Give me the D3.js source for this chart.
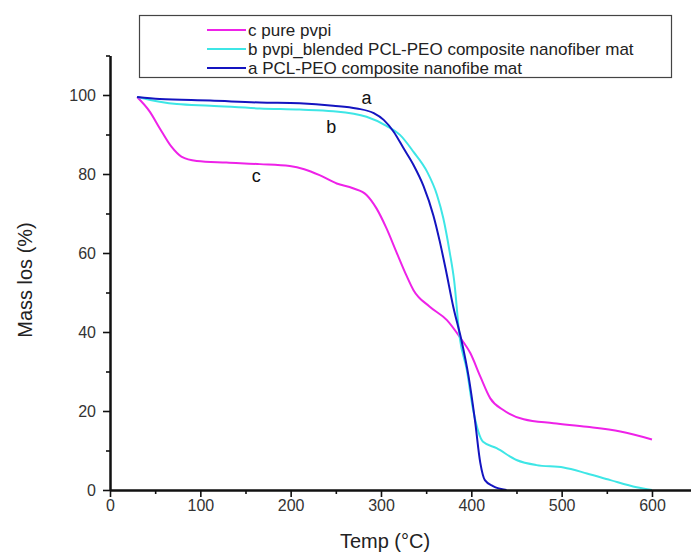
<!DOCTYPE html>
<html>
<head>
<meta charset="utf-8">
<script src="https://cdn.jsdelivr.net/npm/d3@7"></script>
<style>
  html, body { margin: 0; padding: 0; background: #fff; }
  svg { display: block; font-family: "Liberation Sans", Arial, sans-serif; }
</style>
</head>
<body>
<svg id="chart" width="691" height="553"></svg>
<script>
// ---- data ----
const xTicks = [0, 100, 200, 300, 400, 500, 600];
const xMinorTicks = [50, 150, 250, 350, 450, 550, 650];
const yTicks = [0, 20, 40, 60, 80, 100];
const yMinorTicks = [10, 30, 50, 70, 90, 110];

const seriesNames = [
  "c pure pvpi",
  "b pvpi_blended PCL-PEO composite nanofiber mat",
  "a PCL-PEO composite nanofibe mat"
];
const seriesLetters = ["c", "b", "a"];

// c: pure pvpi
const cTemp = [30, 44, 55, 68, 79, 96, 129, 166, 199, 215, 232, 251, 269, 284, 295, 306, 317, 328, 336, 354, 373, 387, 399, 410, 421, 435, 458, 491, 528, 565, 600];
const cMass = [99.5, 95.8, 91.6, 86.9, 84.4, 83.3, 82.9, 82.5, 82.0, 81.2, 79.7, 77.6, 76.4, 74.7, 71.3, 66.3, 60.3, 54.4, 50.6, 46.4, 43.0, 38.8, 34.6, 28.7, 23.2, 20.3, 17.9, 16.9, 16.0, 14.8, 12.8];

// b: pvpi blended PCL-PEO
const bTemp = [30, 55, 74, 111, 166, 210, 247, 284, 306, 321, 336, 351, 362, 369, 376, 381, 387, 395, 402, 413, 428, 450, 472, 502, 528, 554, 583, 600];
const bMass = [99.5, 98.3, 97.7, 97.3, 96.6, 96.3, 95.9, 94.5, 92.2, 89.9, 85.6, 80.6, 74.7, 68.8, 60.3, 53.0, 38.8, 30.4, 20.3, 12.2, 10.6, 7.6, 6.3, 5.7, 4.2, 2.5, 0.7, 0];

// a: PCL-PEO
const aTemp = [30, 55, 111, 166, 210, 247, 273, 292, 303, 314, 325, 336, 347, 358, 365, 372, 380, 389, 397, 404, 410, 415, 424, 439];
const aMass = [99.5, 99.0, 98.6, 98.1, 97.9, 97.3, 96.6, 95.4, 93.7, 90.7, 86.5, 82.3, 77.0, 69.5, 63.0, 55.5, 46.4, 38.0, 28.7, 17.7, 6.8, 2.5, 1.0, 0];

// curve labels: [letter, temp, mass]
const labelLetters = ["a", "b", "c"];
const labelTemp = [284, 245, 162];
const labelMass = [97.8, 90.5, 78];

const colors = { c: "#ee22e8", b: "#3ee6e6", a: "#1414c0" };

// ---- chart ----
const svg = d3.select("#chart");
const x = d3.scaleLinear().domain([0, 650]).range([110, 110 + 650 * 0.9033]);
const y = d3.scaleLinear().domain([0, 110]).range([490, 490 - 110 * 3.95]);

const line = d3.line().x(d => x(d[0])).y(d => y(d[1])).curve(d3.curveMonotoneX);

const series = [
  { key: "c", data: d3.zip(cTemp, cMass) },
  { key: "b", data: d3.zip(bTemp, bMass) },
  { key: "a", data: d3.zip(aTemp, aMass) }
];

series.forEach(s => {
  svg.append("path")
    .attr("d", line(s.data))
    .attr("fill", "none")
    .attr("stroke", colors[s.key])
    .attr("stroke-width", 2)
    .attr("stroke-linejoin", "round");
});

// axes
function styleAxis(g) {
  g.select(".domain").attr("stroke", "#111").attr("stroke-width", 2);
  g.selectAll(".tick line").attr("stroke", "#111").attr("stroke-width", 1.6);
  g.selectAll(".tick text").attr("fill", "#333").style("font-size", "16px")
    .style("font-family", "'Liberation Sans', Arial, sans-serif");
}

svg.append("g").attr("transform", `translate(0,${y(0)})`)
  .call(d3.axisBottom(x).tickValues(xMinorTicks).tickSize(4).tickSizeOuter(0).tickFormat(""))
  .call(styleAxis);
svg.append("g").attr("transform", `translate(0,${y(0)})`)
  .call(d3.axisBottom(x).tickValues(xTicks).tickSize(7).tickPadding(3).tickSizeOuter(0).tickFormat(d3.format("d")))
  .call(styleAxis);

svg.append("g").attr("transform", `translate(${x(0)},0)`)
  .call(d3.axisLeft(y).tickValues(yMinorTicks).tickSize(4).tickSizeOuter(0).tickFormat(""))
  .call(styleAxis);
svg.append("g").attr("transform", `translate(${x(0)},0)`)
  .call(d3.axisLeft(y).tickValues(yTicks).tickSize(7).tickPadding(7).tickSizeOuter(0).tickFormat(d3.format("d")))
  .call(styleAxis);

// axis titles
svg.append("text").attr("x", 385).attr("y", 548).attr("text-anchor", "middle")
  .style("font-size", "20px").attr("fill", "#222").text("Temp (°C)");
svg.append("text").attr("transform", "translate(32,280) rotate(-90)").attr("text-anchor", "middle")
  .style("font-size", "20px").attr("fill", "#222").text("Mass los (%)");

// curve labels
labelLetters.forEach((l, i) => {
  svg.append("text").attr("x", x(labelTemp[i])).attr("y", y(labelMass[i]))
    .attr("text-anchor", "middle").style("font-size", "18px").attr("fill", "#111").text(l);
});

// legend
const lg = svg.append("g");
lg.append("rect").attr("x", 139.5).attr("y", 15.5).attr("width", 532).attr("height", 62)
  .attr("fill", "#fff").attr("stroke", "#444").attr("stroke-width", 1.2);
seriesNames.forEach((name, i) => {
  const yy = 30 + i * 19;
  lg.append("line").attr("x1", 207).attr("x2", 246).attr("y1", yy).attr("y2", yy)
    .attr("stroke", colors[seriesLetters[i]]).attr("stroke-width", 2);
  lg.append("text").attr("x", 248).attr("y", yy + 6).style("font-size", "17px")
    .attr("fill", "#222").text(name);
});
</script>
</body>
</html>
